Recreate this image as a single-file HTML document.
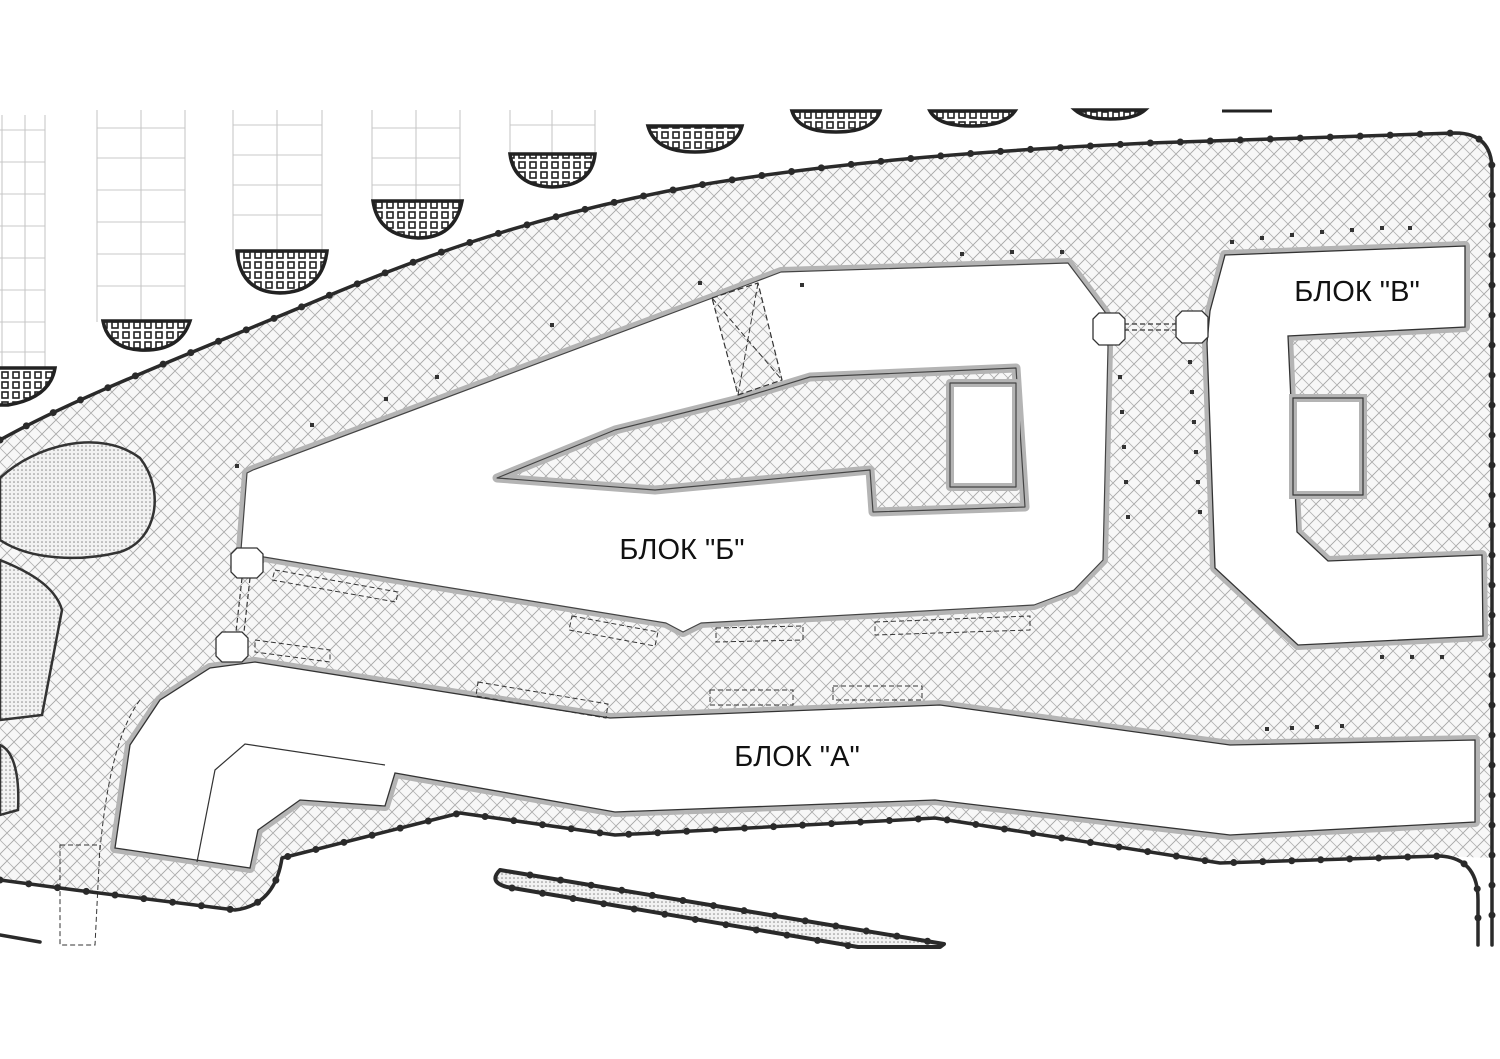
<!DOCTYPE html>
<html><head><meta charset="utf-8"><style>
html,body{margin:0;padding:0;background:#fff}
svg{display:block}
text{font-family:"Liberation Sans","DejaVu Sans",sans-serif}
</style></head><body>
<svg width="1500" height="1059" viewBox="0 0 1500 1059" xmlns="http://www.w3.org/2000/svg">
<defs>
<pattern id="hb" width="14" height="14" patternUnits="userSpaceOnUse">
<rect width="14" height="14" fill="#f7f7f7"/>
<path d="M0 14 L14 0 M-3 3 L3 -3 M11 17 L17 11" stroke="#a6a6a6" stroke-width="0.9"/>
<path d="M0 0 L7 7 M7 7 L14 14" stroke="#b0b0b0" stroke-width="0.8"/>
</pattern>
<pattern id="dots" width="4" height="4" patternUnits="userSpaceOnUse">
<rect width="4" height="4" fill="#f2f2f2"/><circle cx="2" cy="2" r="0.8" fill="#888"/>
</pattern>
<pattern id="sq" width="11" height="10" patternUnits="userSpaceOnUse">
<rect width="11" height="10" fill="#fff"/><rect x="2" y="2" width="6" height="6" fill="none" stroke="#222" stroke-width="1.6"/>
</pattern>
</defs>

<g stroke="#c8c8c8" stroke-width="1.1" fill="none">
<path d="M2 115 V370 M45 115 V370 M0 130 H45 M0 162 H45 M0 194 H45 M0 226 H45 M0 258 H45 M0 290 H45 M0 322 H45 M0 352 H45 M25 115 V370"/>
<path d="M97 110 V322 M185 110 V322 M97 128 H185 M97 158 H185 M97 190 H185 M97 222 H185 M97 254 H185 M97 286 H185 M141 110 V322"/>
<path d="M233 110 V250 M322 110 V250 M233 125 H322 M233 155 H322 M233 185 H322 M233 215 H322 M277 110 V250"/>
<path d="M372 110 V200 M460 110 V200 M372 128 H460 M372 158 H460 M372 185 H460 M416 110 V200"/>
<path d="M510 110 V155 M595 110 V155 M510 125 H595 M552 110 V155"/>
</g>

<g fill="url(#sq)" stroke="#222" stroke-width="3.5">
<path d="M-5 368 H55 Q50 398 8 405 L-5 405 Z"/>
<path d="M103 321 H190 Q180 352 140 350 Q108 348 103 321 Z"/>
<path d="M237 251 H327 Q322 292 280 293 Q240 292 237 251 Z"/>
<path d="M373 201 H462 Q455 238 418 238 Q378 236 373 201 Z"/>
<path d="M510 154 H595 Q592 186 552 187 Q514 186 510 154 Z"/>
<path d="M648 126 H742 Q735 152 695 152 Q655 152 648 126 Z"/>
<path d="M792 111 H880 Q873 132 836 132 Q798 132 792 111 Z"/>
<path d="M930 111 H1015 Q1005 126 972 126 Q938 126 930 111 Z"/>
<path d="M1075 110 H1145 Q1135 119 1110 119 Q1085 119 1075 110 Z"/>
</g>
<path d="M1222 111 H1272" stroke="#222" stroke-width="3"/>

<path d="M0 440 C80 395 200 350 330 295 C450 245 560 210 700 185 C850 160 1000 150 1150 143 L1455 133 Q1492 133 1492 170 L1492 858 L1440 856 L1220 863 L935 818 L900 820 L615 835 L460 813 L282 858 Q275 905 235 910 L75 890 L0 880 Z" fill="url(#hb)"/>

<g fill="url(#dots)" stroke="#333" stroke-width="2.5">
<path d="M0 478 C35 445 100 428 140 458 C165 490 158 540 120 552 C80 562 30 560 0 540 Z"/>
<path d="M0 560 C25 570 55 585 62 610 L42 715 L0 720 Z"/>
<path d="M0 745 C12 750 20 770 18 810 L0 815 Z"/>
</g>

<g stroke-linejoin="round">
<path d="M253 470 L715 297 L752 283 L781 272 L1068 263 L1105 312 L1108 347 L1103 560 L1074 590 L1034 605 L701 623 L683 632 L666 623 L574 608 L402 580 L264 557 L241 550 L247 473 Z" fill="#fff" stroke="#b4b4b4" stroke-width="10"/>
<path d="M253 470 L715 297 L752 283 L781 272 L1068 263 L1105 312 L1108 347 L1103 560 L1074 590 L1034 605 L701 623 L683 632 L666 623 L574 608 L402 580 L264 557 L241 550 L247 473 Z" fill="#fff" stroke="#444" stroke-width="1.2"/>
<path d="M497 478 L615 430 L735 400 L810 377 L1016 368 L1025 507 L873 512 L870 470 L655 490 Z" fill="url(#hb)" stroke="#b4b4b4" stroke-width="9"/>
<path d="M497 478 L615 430 L735 400 L810 377 L1016 368 L1025 507 L873 512 L870 470 L655 490 Z" fill="none" stroke="#444" stroke-width="1.2"/>
<rect x="950" y="383" width="66" height="104" fill="#fff" stroke="#b4b4b4" stroke-width="8"/>
<rect x="950" y="383" width="66" height="104" fill="none" stroke="#444" stroke-width="1.2"/>
<path d="M712 298 L758 283 L782 380 L738 395 Z" fill="url(#hb)" stroke="#333" stroke-width="1.2" stroke-dasharray="6 3"/>
<path d="M712 298 L782 380 M758 283 L738 395" stroke="#333" stroke-width="1" stroke-dasharray="6 3"/>
</g>

<path d="M1225 255 L1465 246 L1465 327 L1288 336 L1297 532 L1328 561 L1482 555 L1483 636 L1298 645 L1215 568 L1207 343 L1210 311 Z" fill="#fff" stroke="#b4b4b4" stroke-width="10" stroke-linejoin="round"/>
<path d="M1225 255 L1465 246 L1465 327 L1288 336 L1297 532 L1328 561 L1482 555 L1483 636 L1298 645 L1215 568 L1207 343 L1210 311 Z" fill="#fff" stroke="#333" stroke-width="1.3"/>
<rect x="1293" y="398" width="70" height="97" fill="#fff" stroke="#b4b4b4" stroke-width="8"/>
<rect x="1293" y="398" width="70" height="97" fill="none" stroke="#333" stroke-width="1.2"/>

<path d="M255 662 L610 718 L940 705 L1230 745 L1475 740 L1475 822 L1230 835 L935 800 L615 812 L395 773 L385 806 L300 800 L258 830 L250 868 L115 848 L130 745 L160 700 L210 668 Z" fill="#fff" stroke="#b4b4b4" stroke-width="10" stroke-linejoin="round"/>
<path d="M255 662 L610 718 L940 705 L1230 745 L1475 740 L1475 822 L1230 835 L935 800 L615 812 L395 773 L385 806 L300 800 L258 830 L250 868 L115 848 L130 745 L160 700 L210 668 Z" fill="#fff" stroke="#333" stroke-width="1.3"/>
<path d="M385 765 L245 744 L215 770 L197 862" fill="none" stroke="#333" stroke-width="1.2"/>

<g stroke="#333" stroke-width="1.2" stroke-dasharray="5 3" fill="none">
<path d="M1124 324 H1178 M1124 330 H1178"/>
<path d="M242 578 L236 632 M250 578 L244 632"/>
</g>
<g fill="#fff" stroke="#333" stroke-width="1.3">
<path d="M1099 313 h20 l6 6 v20 l-6 6 h-20 l-6 -6 v-20 Z"/>
<path d="M1182 311 h20 l6 6 v20 l-6 6 h-20 l-6 -6 v-20 Z"/>
<path d="M237 548 h20 l6 6 v18 l-6 6 h-20 l-6 -6 v-18 Z"/>
<path d="M222 632 h20 l6 6 v18 l-6 6 h-20 l-6 -6 v-18 Z"/>
</g>

<g fill="none" stroke="#333" stroke-width="1" stroke-dasharray="5 3">
<path d="M275 570 L398 592 L396 602 L272 580 Z"/>
<path d="M572 616 L658 632 L655 646 L569 630 Z"/>
<path d="M716 628 L803 626 L803 640 L716 642 Z"/>
<path d="M875 622 L1030 616 L1030 630 L875 635 Z"/>
<path d="M255 640 L330 650 L330 662 L255 652 Z"/>
<path d="M478 682 L608 704 L606 718 L476 696 Z"/>
<path d="M710 690 L793 690 L793 705 L710 705 Z"/>
<path d="M833 686 L922 686 L922 700 L833 700 Z"/>
<path d="M140 700 Q110 740 100 850 M60 845 L100 845 L95 945 L60 945 Z"/>
</g>

<g fill="#333">
<rect x="310" y="423" width="4" height="4"/><rect x="384" y="397" width="4" height="4"/><rect x="435" y="375" width="4" height="4"/><rect x="550" y="323" width="4" height="4"/><rect x="698" y="281" width="4" height="4"/><rect x="235" y="464" width="4" height="4"/>
<rect x="1188" y="360" width="4" height="4"/><rect x="1190" y="390" width="4" height="4"/><rect x="1192" y="420" width="4" height="4"/><rect x="1194" y="450" width="4" height="4"/><rect x="1196" y="480" width="4" height="4"/><rect x="1198" y="510" width="4" height="4"/>
<rect x="1118" y="375" width="4" height="4"/><rect x="1120" y="410" width="4" height="4"/><rect x="1122" y="445" width="4" height="4"/><rect x="1124" y="480" width="4" height="4"/><rect x="1126" y="515" width="4" height="4"/>
<rect x="1230" y="240" width="4" height="4"/><rect x="1260" y="236" width="4" height="4"/><rect x="1290" y="233" width="4" height="4"/><rect x="1320" y="230" width="4" height="4"/><rect x="1350" y="228" width="4" height="4"/><rect x="1380" y="226" width="4" height="4"/><rect x="1408" y="226" width="4" height="4"/>
<rect x="1380" y="655" width="4" height="4"/><rect x="1410" y="655" width="4" height="4"/><rect x="1440" y="655" width="4" height="4"/><rect x="1265" y="727" width="4" height="4"/><rect x="1290" y="726" width="4" height="4"/><rect x="1315" y="725" width="4" height="4"/><rect x="1340" y="724" width="4" height="4"/>
<rect x="800" y="283" width="4" height="4"/><rect x="960" y="252" width="4" height="4"/><rect x="1010" y="250" width="4" height="4"/><rect x="1060" y="250" width="4" height="4"/>
</g>

<g fill="none" stroke="#2a2a2a" stroke-linecap="round" stroke-linejoin="round">
<path d="M0 440 C80 395 200 350 330 295 C450 245 560 210 700 185 C850 160 1000 150 1150 143 L1455 133 Q1492 133 1492 170 L1492 945" stroke-width="3.5"/>
<path d="M0 440 C80 395 200 350 330 295 C450 245 560 210 700 185 C850 160 1000 150 1150 143 L1455 133 Q1492 133 1492 170 L1492 945" stroke-width="7" stroke-dasharray="0 30"/>
<path d="M0 880 L75 890 L235 910 Q275 905 282 858 L460 813 L615 835 L900 820 L935 818 L1220 863 L1440 856 Q1478 858 1478 900 L1478 945" stroke-width="3.5"/>
<path d="M0 880 L75 890 L235 910 Q275 905 282 858 L460 813 L615 835 L900 820 L935 818 L1220 863 L1440 856 Q1478 858 1478 900 L1478 945" stroke-width="7" stroke-dasharray="0 29"/>
<path d="M0 935 L40 942" stroke-width="3.5"/>
</g>

<path d="M500 870 L944 944 L940 947 L858 947 L507 887 Q488 882 500 870 Z" fill="url(#dots)" stroke="#2a2a2a" stroke-width="4" stroke-linejoin="round"/>
<path d="M530 875 L944 944 M512 888 L850 946" stroke="#2a2a2a" stroke-width="7" stroke-dasharray="0 31" stroke-linecap="round"/>

<g font-size="29" fill="#111" text-anchor="middle">
<text x="682" y="559">БЛОК "Б"</text>
<text x="797" y="766">БЛОК "А"</text>
<text x="1357" y="301">БЛОК "В"</text>
</g>
</svg>
</body></html>
